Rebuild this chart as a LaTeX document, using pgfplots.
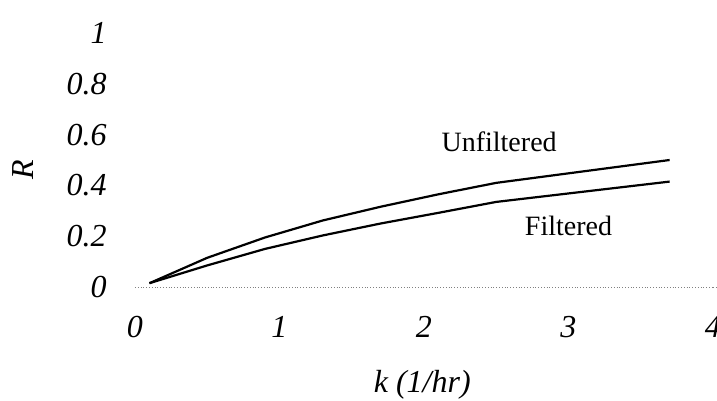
\documentclass[border=0pt]{standalone}
\usepackage{fontspec}
\setmainfont{Liberation Serif}
\usepackage{pgfplots}
\pgfplotsset{compat=1.18}
\begin{document}
\begin{tikzpicture}
\useasboundingbox (-67.5pt,-57pt) rectangle (291pt,143.5pt);
\begin{axis}[
  at={(0pt,0pt)}, anchor=south west,
  scale only axis, width=289pt, height=127pt,
  xmin=0, xmax=4, ymin=0, ymax=1,
  clip=false,
  axis x line=bottom, axis y line=left,
  x axis line style={draw=gray, densely dotted, -},
  y axis line style={draw=none},
  xtick={0,1,2,3,4}, ytick={0,0.2,0.4,0.6,0.8,1},
  major tick length=0pt,
  /pgf/number format/assume math mode=true,
  tick label style={font=\fontsize{16}{19}\selectfont\itshape},
  yticklabel style={anchor=east, inner sep=0pt, xshift=-14pt},
  xticklabel style={anchor=north, inner sep=0pt, yshift=-14.5pt},
  yticklabel={\pgfmathprintnumber[fixed,precision=1]{\tick}},
  xlabel={k (1/hr)}, ylabel={R},
  label style={font=\fontsize{16}{19}\selectfont\itshape},
  xlabel style={at={(axis description cs:0.497,0)}, anchor=center, yshift=-49pt},
  ylabel style={at={(axis description cs:0,0.46)}, anchor=center, yshift=56pt},
]
\addplot[black, line width=1.1pt] coordinates {
 (0.1,0.015) (0.5,0.115) (0.9,0.195) (1.3,0.262) (1.7,0.316) (2.1,0.365) (2.5,0.41) (3.7,0.50)};
\addplot[black, line width=1.1pt] coordinates {
 (0.1,0.015) (0.5,0.085) (0.9,0.15) (1.3,0.203) (1.7,0.25) (2.1,0.292) (2.5,0.335) (3.7,0.415)};
\draw[gray, densely dotted] (axis cs:4,0) -- (axis cs:4.03,0);
\node[font=\fontsize{14}{17}\selectfont] at (axis cs:2.52,0.571) {Unfiltered};
\node[font=\fontsize{14}{17}\selectfont] at (axis cs:3.0,0.24) {Filtered};
\end{axis}
\end{tikzpicture}
\end{document}
